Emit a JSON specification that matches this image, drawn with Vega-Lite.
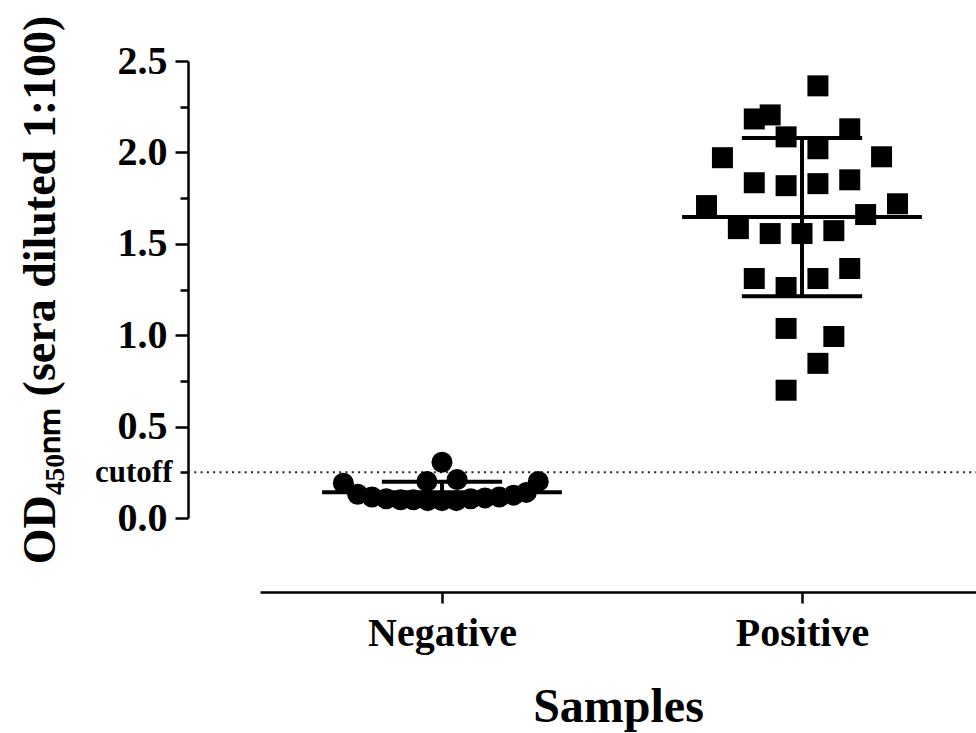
{
  "$schema": "https://vega.github.io/schema/vega-lite/v6.json",
  "autosize": {"type": "none"},
  "padding": {"left": 260, "top": 61, "right": 0, "bottom": 215},
  "width": 716,
  "height": 457,
  "background": "white",
  "config": {"view": {"stroke": null}, "font": "Liberation Serif"},
  "datasets": {
    "pts": [
      {"group": "Negative", "g": 1, "col": -6.2, "od": 0.19},
      {"group": "Negative", "g": 1, "col": -5.3, "od": 0.13},
      {"group": "Negative", "g": 1, "col": -4.4, "od": 0.115},
      {"group": "Negative", "g": 1, "col": -3.5, "od": 0.105},
      {"group": "Negative", "g": 1, "col": -2.6, "od": 0.1},
      {"group": "Negative", "g": 1, "col": -1.8, "od": 0.1},
      {"group": "Negative", "g": 1, "col": -0.95, "od": 0.2},
      {"group": "Negative", "g": 1, "col": -0.9, "od": 0.095},
      {"group": "Negative", "g": 1, "col": 0, "od": 0.305},
      {"group": "Negative", "g": 1, "col": 0, "od": 0.095},
      {"group": "Negative", "g": 1, "col": 0.95, "od": 0.21},
      {"group": "Negative", "g": 1, "col": 0.9, "od": 0.095},
      {"group": "Negative", "g": 1, "col": 1.8, "od": 0.105},
      {"group": "Negative", "g": 1, "col": 2.7, "od": 0.11},
      {"group": "Negative", "g": 1, "col": 3.6, "od": 0.115},
      {"group": "Negative", "g": 1, "col": 4.5, "od": 0.125},
      {"group": "Negative", "g": 1, "col": 5.3, "od": 0.14},
      {"group": "Negative", "g": 1, "col": 6.05, "od": 0.2},
      {"group": "Positive", "g": 2, "col": 1, "od": 2.364},
      {"group": "Positive", "g": 2, "col": -3, "od": 2.183},
      {"group": "Positive", "g": 2, "col": -2, "od": 2.205},
      {"group": "Positive", "g": 2, "col": -1, "od": 2.085},
      {"group": "Positive", "g": 2, "col": 3, "od": 2.129},
      {"group": "Positive", "g": 2, "col": -5, "od": 1.971},
      {"group": "Positive", "g": 2, "col": 1, "od": 2.02},
      {"group": "Positive", "g": 2, "col": 5, "od": 1.976},
      {"group": "Positive", "g": 2, "col": -3, "od": 1.834},
      {"group": "Positive", "g": 2, "col": -1, "od": 1.818},
      {"group": "Positive", "g": 2, "col": 1, "od": 1.829},
      {"group": "Positive", "g": 2, "col": 3, "od": 1.85},
      {"group": "Positive", "g": 2, "col": -6, "od": 1.709},
      {"group": "Positive", "g": 2, "col": 6, "od": 1.719},
      {"group": "Positive", "g": 2, "col": 4, "od": 1.66},
      {"group": "Positive", "g": 2, "col": -4, "od": 1.583},
      {"group": "Positive", "g": 2, "col": -2, "od": 1.556},
      {"group": "Positive", "g": 2, "col": 0, "od": 1.556},
      {"group": "Positive", "g": 2, "col": 2, "od": 1.572},
      {"group": "Positive", "g": 2, "col": -3, "od": 1.31},
      {"group": "Positive", "g": 2, "col": -1, "od": 1.261},
      {"group": "Positive", "g": 2, "col": 1, "od": 1.31},
      {"group": "Positive", "g": 2, "col": 3, "od": 1.365},
      {"group": "Positive", "g": 2, "col": -1, "od": 1.037},
      {"group": "Positive", "g": 2, "col": 2, "od": 0.993},
      {"group": "Positive", "g": 2, "col": 1, "od": 0.846},
      {"group": "Positive", "g": 2, "col": -1, "od": 0.699}
    ],
    "cut": [{"label": "cutoff", "value": 0.25}]
  },
  "layer": [
    {
      "data": {"name": "cut"},
      "mark": {"type": "rule", "color": "#222", "strokeWidth": 2, "strokeDash": [2, 4.3]},
      "encoding": {
        "x": {"datum": 0.2944, "type": "quantitative"},
        "x2": {"datum": 2.4833},
        "y": {"field": "value", "type": "quantitative"}
      }
    },
    {
      "data": {"name": "pts"},
      "transform": [{"calculate": "datum.g + datum.col * 0.0442", "as": "xp"}],
      "mark": {"type": "point", "filled": true, "opacity": 1, "color": "black", "size": 441},
      "encoding": {
        "x": {
          "field": "xp", "type": "quantitative",
          "scale": {"domain": [0.49444, 2.48333], "nice": false, "zero": false},
          "axis": {
            "values": [1, 2],
            "labelExpr": "datum.value == 1 ? 'Negative' : 'Positive'",
            "offset": 74,
            "grid": false,
            "domainColor": "black", "domainWidth": 2.5,
            "tickColor": "black", "tickWidth": 2.5, "tickSize": 11,
            "labelFont": "Liberation Serif", "labelFontWeight": "bold", "labelFontSize": 40,
            "labelColor": "black", "labelPadding": 10,
            "title": "Samples",
            "titleFont": "Liberation Serif", "titleFontWeight": "bold", "titleFontSize": 48,
            "titleColor": "black", "titlePadding": 30
          }
        },
        "y": {
          "field": "od", "type": "quantitative",
          "scale": {"domain": [0, 2.5], "nice": false, "zero": true},
          "axis": {
            "values": [0, 0.25, 0.5, 0.75, 1, 1.25, 1.5, 1.75, 2, 2.25, 2.5],
            "labelExpr": "datum.value == 0.25 ? 'cutoff' : (datum.value * 2 % 1 == 0 ? format(datum.value, '.1f') : '')",
            "offset": 72,
            "grid": false,
            "domainColor": "black", "domainWidth": 2.5,
            "tickColor": "black", "tickWidth": 2.5,
            "tickSize": {"condition": {"test": "datum.value * 2 % 1 == 0", "value": 13}, "value": 8},
            "labelFont": "Liberation Serif", "labelFontWeight": "bold",
            "labelFontSize": {"condition": {"test": "datum.value == 0.25", "value": 31}, "value": 40},
            "labelColor": "black", "labelPadding": 8, "labelBaseline": "middle",
            "title": "OD₄₅₀ₙₘ (sera diluted 1:100)",
            "titleFont": "Liberation Serif", "titleFontWeight": "bold", "titleFontSize": 46,
            "titleColor": "black", "titlePadding": 30
          }
        },
        "shape": {
          "field": "group", "type": "nominal",
          "scale": {"domain": ["Negative", "Positive"], "range": ["circle", "square"]},
          "legend": null
        }
      }
    },
    {
      "data": {"name": "pts"},
      "transform": [
        {"aggregate": [{"op": "mean", "field": "od", "as": "m"}, {"op": "stdev", "field": "od", "as": "s"}], "groupby": ["g"]},
        {"calculate": "datum.m - datum.s", "as": "lo"},
        {"calculate": "datum.m + datum.s", "as": "hi"},
        {"calculate": "datum.g - 0.333", "as": "ml"},
        {"calculate": "datum.g + 0.333", "as": "mr"},
        {"calculate": "datum.g - 0.167", "as": "sl"},
        {"calculate": "datum.g + 0.167", "as": "sr"}
      ],
      "layer": [
        {
          "mark": {"type": "rule", "color": "black", "strokeWidth": 4},
          "encoding": {
            "x": {"field": "ml", "type": "quantitative"},
            "x2": {"field": "mr"},
            "y": {"field": "m", "type": "quantitative"}
          }
        },
        {
          "mark": {"type": "rule", "color": "black", "strokeWidth": 4},
          "encoding": {
            "x": {"field": "sl", "type": "quantitative"},
            "x2": {"field": "sr"},
            "y": {"field": "hi", "type": "quantitative"}
          }
        },
        {
          "mark": {"type": "rule", "color": "black", "strokeWidth": 4},
          "encoding": {
            "x": {"field": "sl", "type": "quantitative"},
            "x2": {"field": "sr"},
            "y": {"field": "lo", "type": "quantitative"}
          }
        },
        {
          "mark": {"type": "rule", "color": "black", "strokeWidth": 4},
          "encoding": {
            "x": {"field": "g", "type": "quantitative"},
            "y": {"field": "lo", "type": "quantitative"},
            "y2": {"field": "hi"}
          }
        }
      ]
    }
  ]
}
